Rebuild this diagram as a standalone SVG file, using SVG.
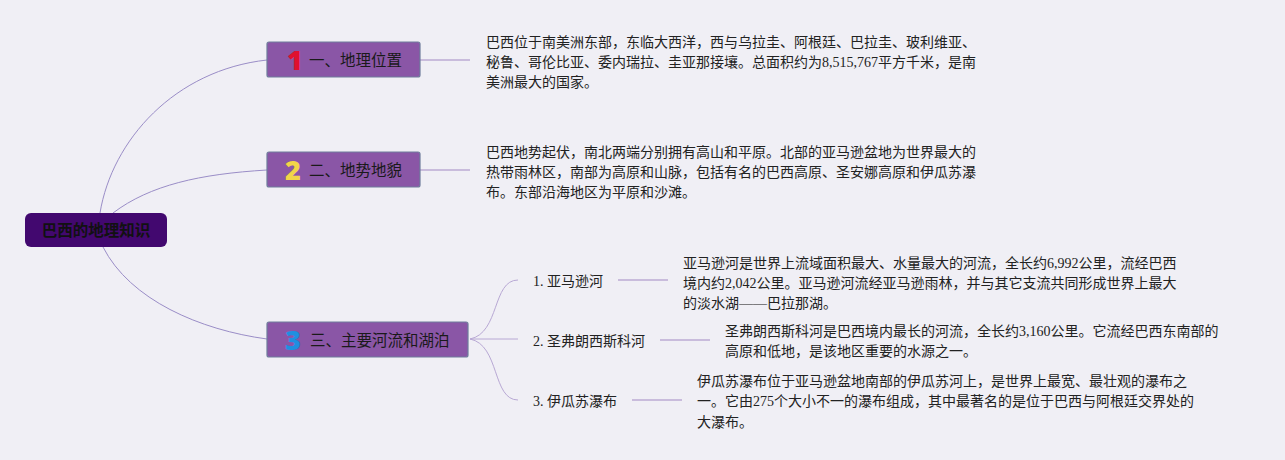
<svg xmlns="http://www.w3.org/2000/svg" width="1285" height="460" viewBox="0 0 1285 460">
<style>
.bg{fill:#f0eff5}
.root{fill:#42086f}
.roott{font-family:"Noto Sans CJK SC",sans-serif;font-size:15.5px;font-weight:bold;fill:#111}
.br{fill:#8a56a6;stroke:#6e7c9c;stroke-width:1.2}
.brt{font-family:"Noto Sans CJK SC",sans-serif;font-size:15.5px;fill:#1a1a1a}
.num{font-family:"Open Sans","Liberation Sans",sans-serif;font-size:27px;font-weight:800}
.c1{fill:none;stroke:#9a8dc7;stroke-width:1}
.c2{fill:none;stroke:#c9bcdc;stroke-width:2}
.c3{fill:none;stroke:#b8a8d4;stroke-width:1}
.sub{font-family:"Liberation Serif","Noto Sans CJK SC",serif;font-size:14px;fill:#222}
.body{font-family:"Liberation Serif","Noto Sans CJK SC",serif;font-size:14px;fill:#222}
</style>
<rect class="bg" x="0" y="0" width="1285" height="460"/>
<g id="connectors">
<path class="c1" d="M100,213 C112,140 175,70 267,60"/>
<path class="c1" d="M113,213 C150,185 200,174 267,170"/>
<path class="c1" d="M103,247 C130,300 200,330 267,339"/>
<path class="c2" d="M420,60 H470"/>
<path class="c2" d="M420,170 H470"/>
<path class="c3" d="M470,339 C500,333 492,280 518,280"/>
<path class="c3" d="M470,339 H518"/>
<path class="c3" d="M470,339 C500,345 492,400 518,400"/>
<path class="c2" d="M618,280 H668"/>
<path class="c2" d="M660,340 H710"/>
<path class="c2" d="M632,400 H682"/>
</g>
<g id="root">
<rect class="root" x="25" y="213" width="142" height="34" rx="6"/>
<text class="roott" x="96" y="235.5" text-anchor="middle">巴西的地理知识</text>
</g>
<g id="b1">
<rect class="br" x="267" y="42" width="153" height="35" rx="2"/>
<text class="num" x="287" y="70" fill="#e01030">1</text>
<text class="brt" x="309" y="66">一、地理位置</text>
</g>
<g id="b2">
<rect class="br" x="267" y="152" width="153" height="35" rx="2"/>
<text class="num" x="285" y="180" fill="#f2d548">2</text>
<text class="brt" x="309" y="176">二、地势地貌</text>
</g>
<g id="b3">
<rect class="br" x="267" y="322" width="201" height="35" rx="2"/>
<text class="num" x="285" y="350" fill="#1e8fe0">3</text>
<text class="brt" x="310" y="346">三、主要河流和湖泊</text>
</g>
<g id="t1">
<text class="body" x="486" y="47">巴西位于南美洲东部，东临大西洋，西与乌拉圭、阿根廷、巴拉圭、玻利维亚、</text>
<text class="body" x="486" y="67">秘鲁、哥伦比亚、委内瑞拉、圭亚那接壤。总面积约为8,515,767平方千米，是南</text>
<text class="body" x="486" y="87">美洲最大的国家。</text>
</g>
<g id="t2">
<text class="body" x="486" y="157">巴西地势起伏，南北两端分别拥有高山和平原。北部的亚马逊盆地为世界最大的</text>
<text class="body" x="486" y="177">热带雨林区，南部为高原和山脉，包括有名的巴西高原、圣安娜高原和伊瓜苏瀑</text>
<text class="body" x="486" y="197">布。东部沿海地区为平原和沙滩。</text>
</g>
<g id="s1">
<text class="sub" x="533" y="286">1. 亚马逊河</text>
</g>
<g id="s2">
<text class="sub" x="533" y="346">2. 圣弗朗西斯科河</text>
</g>
<g id="s3">
<text class="sub" x="533" y="406">3. 伊瓜苏瀑布</text>
</g>
<g id="st1">
<text class="body" x="683" y="268">亚马逊河是世界上流域面积最大、水量最大的河流，全长约6,992公里，流经巴西</text>
<text class="body" x="683" y="288">境内约2,042公里。亚马逊河流经亚马逊雨林，并与其它支流共同形成世界上最大</text>
<text class="body" x="683" y="308">的淡水湖——巴拉那湖。</text>
</g>
<g id="st2">
<text class="body" x="725" y="336">圣弗朗西斯科河是巴西境内最长的河流，全长约3,160公里。它流经巴西东南部的</text>
<text class="body" x="725" y="356">高原和低地，是该地区重要的水源之一。</text>
</g>
<g id="st3">
<text class="body" x="697" y="386">伊瓜苏瀑布位于亚马逊盆地南部的伊瓜苏河上，是世界上最宽、最壮观的瀑布之</text>
<text class="body" x="697" y="406">一。它由275个大小不一的瀑布组成，其中最著名的是位于巴西与阿根廷交界处的</text>
<text class="body" x="697" y="427">大瀑布。</text>
</g>
</svg>
